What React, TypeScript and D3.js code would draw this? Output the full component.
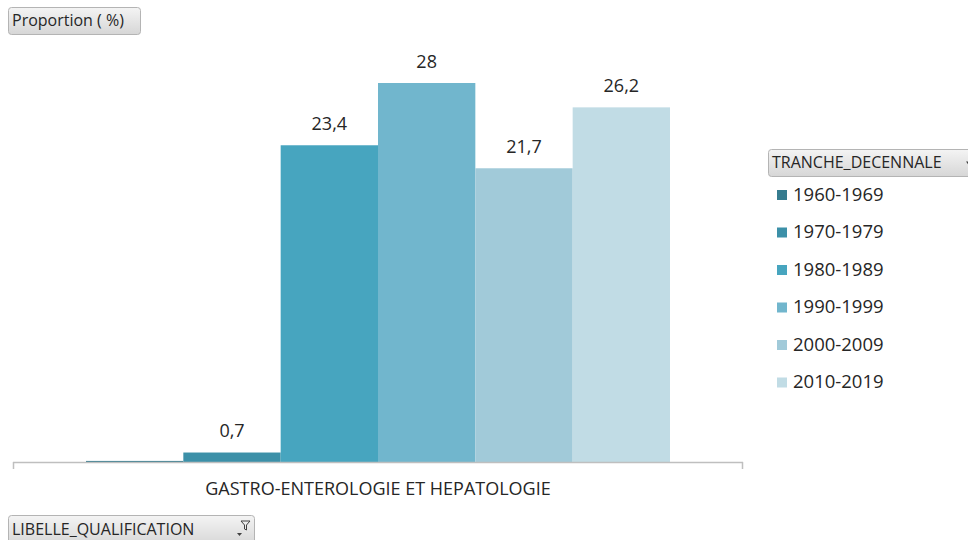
import React from "react";
import * as d3 from "d3";

const categories = ["GASTRO-ENTEROLOGIE ET HEPATOLOGIE"];
const series = ["1960-1969", "1970-1979", "1980-1989", "1990-1999", "2000-2009", "2010-2019"];
const values = [0.08, 0.7, 23.4, 28, 21.7, 26.2];
const valueLabels = ["", "0,7", "23,4", "28", "21,7", "26,2"];
const colors = ["#367C8F", "#3C90A8", "#47A5BF", "#71B6CD", "#A1CAD9", "#C1DCE5"];

const W = 968;
const H = 540;
const FONT = "'Open Sans', 'DejaVu Sans', sans-serif";

function Button({ x, y, w, h, label, fontSize, icon }: { x: number; y: number; w: number; h: number; label: string; fontSize: number; icon?: "arrow" | "filter" }) {
  return (
    <g>
      <rect x={x + 0.5} y={y + 0.5} width={w} height={h} rx={3} ry={3} fill="url(#btnGrad)" stroke="#b4b4b4" />
      <text x={x + 4} y={y + h / 2 + 1} dominantBaseline="middle" fontFamily={FONT} fontSize={fontSize} fill="#262626">
        {label}
      </text>
      {icon === "arrow" && (
        <path d={`M${x + w - 12},${y + h / 2 - 1} l6,0 l-3,4 z`} fill="#404040" />
      )}
      {icon === "filter" && (
        <g>
          <path d={`M${x + w - 17},${y + h / 2 + 3} l5,0 l-2.5,3 z`} fill="#404040" />
          <path d={`M${x + w - 13},${y + 6} l9,0 l-3.5,4 l0,5 l-2,-1 l0,-4 z`} fill="none" stroke="#404040" strokeWidth={1} />
        </g>
      )}
    </g>
  );
}

export default function App() {
  const axisLeft = 13;
  const axisRight = 743;
  const axisY = 462;

  const x0 = d3.scaleBand<string>().domain(categories).range([axisLeft, axisRight]).paddingInner(0).paddingOuter(0);
  const groupW = x0.bandwidth();
  const barW = groupW / (series.length + 1.5);
  const gap = (groupW - barW * series.length) / 2;
  const x1 = d3.scaleBand<string>().domain(series).range([gap, gap + barW * series.length]);

  const y = d3.scaleLinear().domain([0, 28]).range([axisY, 83]);

  return (
    <svg width={W} height={H} style={{ position: "absolute", left: 0, top: 0, display: "block" }} xmlns="http://www.w3.org/2000/svg">
      <defs>
        <linearGradient id="btnGrad" x1="0" y1="0" x2="0" y2="1">
          <stop offset="0" stopColor="#f4f4f4" />
          <stop offset="1" stopColor="#d6d6d6" />
        </linearGradient>
      </defs>
      <rect x={0} y={0} width={W} height={H} fill="#ffffff" />

      {categories.map((c) => (
        <g key={c} transform={`translate(${x0(c)},0)`}>
          {series.map((s, i) => {
            const bx = x1(s) as number;
            const top = y(values[i]);
            return (
              <g key={s}>
                <rect x={bx} y={top} width={x1.bandwidth()} height={axisY - top} fill={colors[i]} />
                {valueLabels[i] && (
                  <text x={bx + x1.bandwidth() / 2} y={top - 20} textAnchor="middle" dominantBaseline="middle" fontFamily={FONT} fontSize={18} fill="#262626">
                    {valueLabels[i]}
                  </text>
                )}
              </g>
            );
          })}
          <text x={groupW / 2} y={490} textAnchor="middle" dominantBaseline="middle" fontFamily={FONT} fontSize={18} fill="#262626">
            {c}
          </text>
        </g>
      ))}

      <line x1={axisLeft} x2={axisRight} y1={axisY + 0.5} y2={axisY + 0.5} stroke="#bfbfbf" strokeWidth={1.5} />
      <line x1={axisLeft + 0.5} x2={axisLeft + 0.5} y1={axisY} y2={axisY + 7} stroke="#bfbfbf" strokeWidth={1.5} />
      <line x1={axisRight - 0.5} x2={axisRight - 0.5} y1={axisY} y2={axisY + 7} stroke="#bfbfbf" strokeWidth={1.5} />

      <Button x={8} y={7} w={132} h={27} label="Proportion ( %)" fontSize={16} />
      <Button x={768} y={149} w={210} h={27} label="TRANCHE_DECENNALE" fontSize={16} icon="arrow" />
      <Button x={8} y={515} w={246} h={30} label="LIBELLE_QUALIFICATION" fontSize={16} icon="filter" />

      {series.map((s, i) => {
        const cy = 195 + i * 37.5;
        return (
          <g key={s}>
            <rect x={777} y={cy - 5} width={10} height={10} fill={colors[i]} />
            <text x={793} y={cy + 1} dominantBaseline="middle" fontFamily={FONT} fontSize={18.5} fill="#262626">
              {s}
            </text>
          </g>
        );
      })}
    </svg>
  );
}
